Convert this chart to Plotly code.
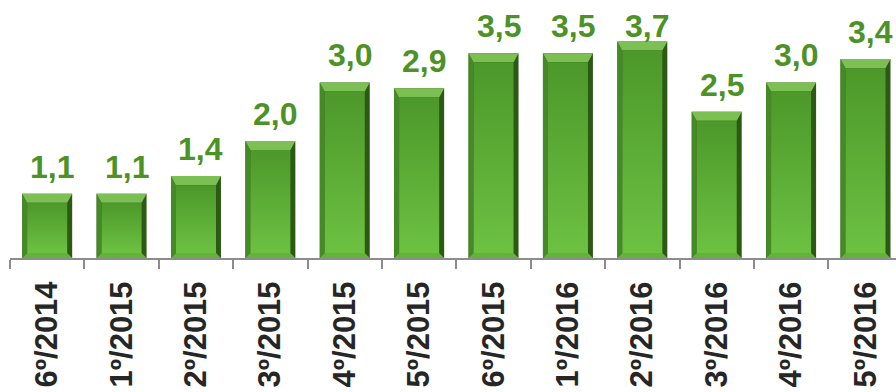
import plotly.graph_objects as go

# Periods and values
periods = ["6º/2014", "1º/2015", "2º/2015", "3º/2015", "4º/2015", "5º/2015",
           "6º/2015", "1º/2016", "2º/2016", "3º/2016", "4º/2016", "5º/2016"]
values = [1.1, 1.1, 1.4, 2.0, 3.0, 2.9, 3.5, 3.5, 3.7, 2.5, 3.0, 3.4]

LABEL_GREEN = "#4d9226"
EDGE_DARK = "#2c5914"
EDGE_LEFT = "#468a27"
TOP_BEVEL = "#7cbf52"
BOTTOM_BEVEL = "#63b23c"
FACE_BOTTOM = "#6cc142"
FACE_TOP = "#4c982a"

Y_MAX = 4.41       # top of the value axis
LABEL_ROOM = 0.91  # vertical room a value label needs above its anchor
BAR_W = 0.672      # bar width in category units
BEV_X = 0.067      # side bevel width (x units)
BEV_TOP = 0.155    # top bevel height (y units)
BEV_BOT = 0.085    # bottom bevel height (y units)

xs = list(range(len(periods)))
fig = go.Figure()

# Base bar body (its dark colour shows as the right-hand shadow edge)
fig.add_trace(go.Bar(x=xs, y=values, width=BAR_W, marker_color=EDGE_DARK,
                     marker_line_width=0, hoverinfo="skip"))


def poly(px, py, **kw):
    fig.add_trace(go.Scatter(x=px + [px[0]], y=py + [py[0]], mode="lines",
                             fill="toself", line=dict(width=0),
                             hoverinfo="skip", showlegend=False, **kw))


h = BAR_W / 2
for c, v in zip(xs, values):
    l, r = c - h, c + h
    # left bevel
    poly([l, l + BEV_X, l + BEV_X, l], [v, v - BEV_TOP, BEV_BOT, 0],
         fillcolor=EDGE_LEFT)
    # bottom bevel
    poly([l, r, r - BEV_X, l + BEV_X], [0, 0, BEV_BOT, BEV_BOT],
         fillcolor=BOTTOM_BEVEL)
    # top bevel
    poly([l, r, r - BEV_X, l + BEV_X], [v, v, v - BEV_TOP, v - BEV_TOP],
         fillcolor=TOP_BEVEL)
    # front face with vertical gradient
    poly([l + BEV_X, r - BEV_X, r - BEV_X, l + BEV_X],
         [BEV_BOT, BEV_BOT, v - BEV_TOP, v - BEV_TOP],
         fillgradient=dict(type="vertical",
                           colorscale=[[0, FACE_BOTTOM], [1, FACE_TOP]]))

# Value labels above bars, kept inside the plotting area
for c, v in zip(xs, values):
    fig.add_annotation(x=c, y=min(v, Y_MAX - LABEL_ROOM),
                       text=f"{v:.1f}".replace(".", ","),
                       showarrow=False, yanchor="bottom", yshift=7, xshift=5,
                       font=dict(family="Liberation Sans, Arial", size=32,
                                 color=LABEL_GREEN, weight="bold"))

fig.update_layout(
    width=896, height=392,
    margin=dict(l=10, r=0, t=0, b=134),
    paper_bgcolor="white", plot_bgcolor="white",
    showlegend=False, barmode="overlay",
    xaxis=dict(
        range=[-0.5, 11.41], tickvals=xs, ticktext=periods,
        tickangle=-90, ticks="", showgrid=False, zeroline=False,
        showline=True, linecolor="#8c8c8c", linewidth=2,
        ticklabelstandoff=9,
        tickfont=dict(family="Liberation Sans, Arial", size=31,
                      color="#262626", weight="bold"),
        minor=dict(tickvals=[i - 0.5 for i in xs] + [len(xs) - 0.5],
                   ticks="outside", ticklen=9, tickwidth=2,
                   tickcolor="#8c8c8c", showgrid=False),
    ),
    yaxis=dict(range=[0, Y_MAX], visible=False, showgrid=False,
               zeroline=False, fixedrange=True),
)

fig.write_html("out.html")
